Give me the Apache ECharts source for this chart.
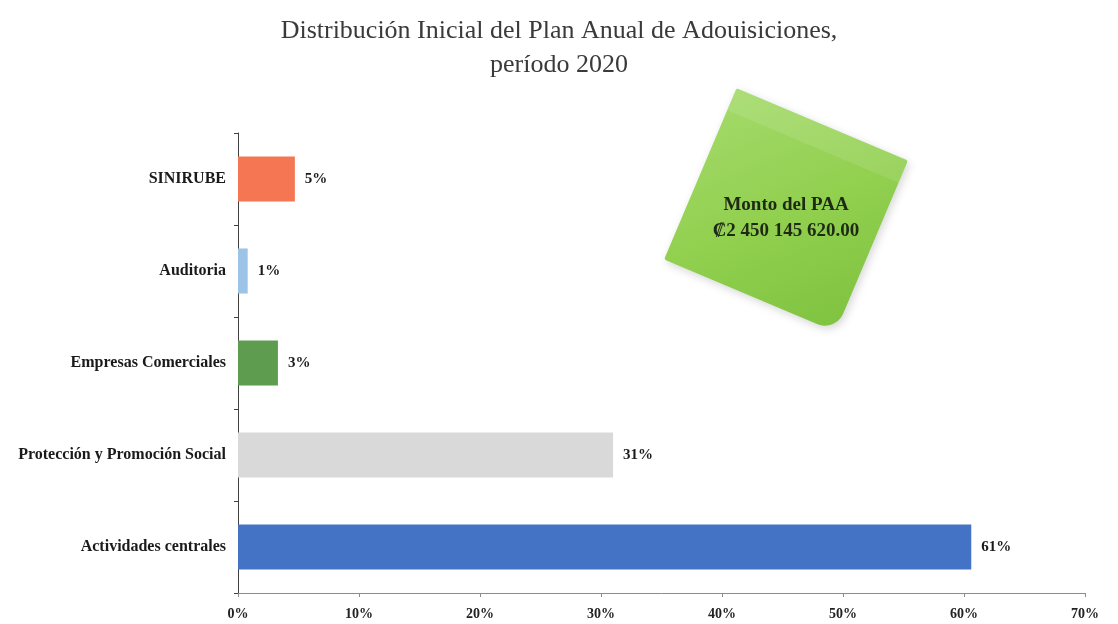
<!DOCTYPE html>
<html>
<head>
<meta charset="utf-8">
<script src="https://cdn.jsdelivr.net/npm/echarts@6/dist/echarts.min.js"></script>
<style>
  html, body { margin: 0; padding: 0; background: #fff; }
  #chart { width: 1118px; height: 624px; }
</style>
</head>
<body>
<div id="chart"></div>
<script>
// categories bottom -> top (category axis on y starts at the bottom)
var categories = ['Actividades centrales', 'Protección y Promoción Social', 'Empresas Comerciales', 'Auditoria', 'SINIRUBE'];
var shares = [60.6, 31.0, 3.3, 0.8, 4.7];
var barColors = ['#4472c4', '#d9d9d9', '#5e9c4f', '#9dc3e6', '#f47652'];
var xTicks = [0, 10, 20, 30, 40, 50, 60, 70];
var noteLines = ['Monto del PAA', '₡2 450 145 620.00'];

var serif = '"Liberation Serif", "DejaVu Serif", serif';

var myChart = echarts.init(document.getElementById('chart'), null, { renderer: 'canvas' });

var chartOpt = {
    backgroundColor: '#ffffff',
    animation: false,
    title: {
        text: 'Distribución Inicial del Plan Anual de Adouisiciones,\nperíodo 2020',
        left: 'center',
        top: 9,
        textStyle: {
            fontFamily: serif,
            fontWeight: 'normal',
            fontSize: 26,
            color: '#3a3a3a',
            lineHeight: 34
        }
    },
    grid: {
        left: 238,
        right: 33,
        top: 133,
        bottom: 31,
        containLabel: false
    },
    xAxis: {
        type: 'value',
        min: xTicks[0],
        max: xTicks[xTicks.length - 1],
        interval: 10,
        axisLine: { show: true, lineStyle: { color: '#8c8c8c', width: 1 } },
        axisTick: { show: true, length: 4, lineStyle: { color: '#8c8c8c' } },
        splitLine: { show: false },
        axisLabel: {
            formatter: '{value}%',
            margin: 14,
            fontFamily: serif,
            fontWeight: 'bold',
            fontSize: 14,
            color: '#222'
        }
    },
    yAxis: {
        type: 'category',
        data: categories,
        axisLine: { show: true, lineStyle: { color: '#404040', width: 1 } },
        axisTick: { show: true, length: 4, lineStyle: { color: '#404040' } },
        axisLabel: {
            margin: 12,
            fontFamily: serif,
            fontWeight: 'bold',
            fontSize: 16,
            color: '#1a1a1a'
        }
    },
    series: [{
        type: 'bar',
        barCategoryGap: '51%',
        data: shares.map(function (v, i) {
            return { value: v, itemStyle: { color: barColors[i] } };
        }),
        label: {
            show: true,
            position: 'right',
            distance: 10,
            formatter: function (p) { return Math.round(p.value) + '%'; },
            fontFamily: serif,
            fontWeight: 'bold',
            fontSize: 15,
            color: '#1a1a1a'
        }
    }],
    graphic: [{
        type: 'group',
        x: 786,
        y: 210,
        rotation: -0.40,
        children: [{
            type: 'rect',
            shape: { x: -93, y: -93, width: 186, height: 186, r: [2, 2, 20, 2] },
            style: {
                fill: new echarts.graphic.LinearGradient(0, 0, 1, 1, [
                    { offset: 0, color: '#a4da6a' },
                    { offset: 0.5, color: '#92d050' },
                    { offset: 1, color: '#7fc340' }
                ]),
                shadowBlur: 8,
                shadowColor: 'rgba(0,0,0,0.16)',
                shadowOffsetX: 2,
                shadowOffsetY: 3
            }
        }, {
            type: 'rect',
            shape: { x: -93, y: -93, width: 186, height: 24 },
            style: { fill: 'rgba(255,255,255,0.10)' }
        }]
    }, {
        type: 'text',
        x: 786,
        y: 218,
        style: {
            text: noteLines.join('\n'),
            align: 'center',
            verticalAlign: 'middle',
            fontFamily: serif,
            fontWeight: 'bold',
            fontSize: 19,
            lineHeight: 26,
            fill: '#1e2a14'
        }
    }]
};

myChart.setOption(chartOpt);
</script>
</body>
</html>
